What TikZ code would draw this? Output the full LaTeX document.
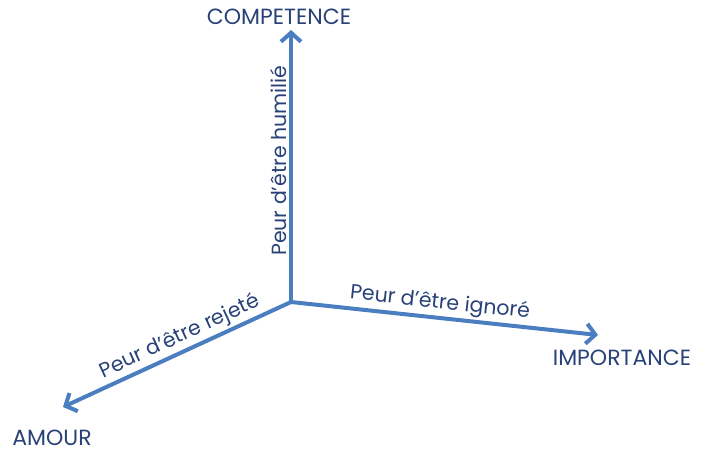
\documentclass[tikz,border=0pt]{standalone}
\usepackage{fontspec}
\setmainfont{Poppins}
\usetikzlibrary{arrows.meta}
\definecolor{axisblue}{RGB}{74,126,192}
\definecolor{textblue}{RGB}{40,66,120}

\begin{document}
\begin{tikzpicture}[x=1pt,y=-1pt,>={Straight Barb[length=9pt,width=20pt]},
  axis/.style={->,draw=axisblue,line width=4pt},
  fear/.style={text=textblue,font=\fontsize{20.5}{24}\selectfont,sloped,above,inner sep=2pt},
  need/.style={text=textblue,font=\fontsize{22}{26}\selectfont}]
\useasboundingbox (0,0) rectangle (716,455);
\coordinate (O) at (291,302);
\coordinate (c) at (291,30);
\coordinate (i) at (598,335);
\coordinate (a) at (63,407);

\node[need] (comp) at (279,17) {COMPETENCE};
\node[need] (imp) at (622,358) {IMPORTANCE};
\node[need] (am) at (52,438) {AMOUR};

\draw[axis] (O) -- node[fear,pos=0.52] {Peur d'être humilié} (c);
\draw[axis] (O) -- node[fear,pos=0.48] {Peur d'être ignoré} (i);
\draw[axis] (O) -- node[fear,pos=0.46,allow upside down=false] {Peur d'être rejeté} (a);
\end{tikzpicture}
\end{document}
